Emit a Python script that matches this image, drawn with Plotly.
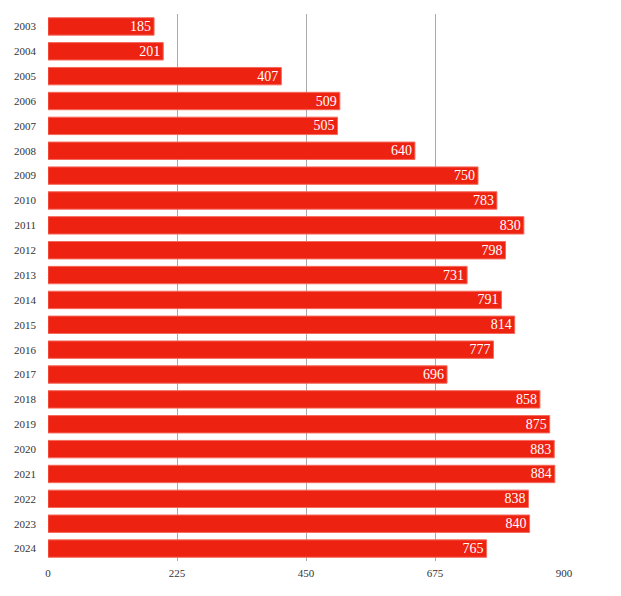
import plotly.graph_objects as go

years = [str(y) for y in range(2003, 2025)]
values = [185, 201, 407, 509, 505, 640, 750, 783, 830, 798, 731, 791, 814, 777,
          696, 858, 875, 883, 884, 838, 840, 765]
x_ticks = [0, 225, 450, 675, 900]

fig = go.Figure(go.Bar(
    x=values, y=years, orientation="h",
    marker=dict(color="#EE2211", line=dict(color="#F46A5C", width=1)),
    text=[str(v) for v in values], textposition="inside", insidetextanchor="end",
    constraintext="none",
    textfont=dict(color="white", size=14, family="Liberation Serif"),
    cliponaxis=False,
))
fig.update_layout(
    width=621, height=596,
    margin=dict(l=40, r=65, t=6, b=43, autoexpand=False),
    plot_bgcolor="white", paper_bgcolor="white",
    bargap=0.3,
    font=dict(family="Liberation Serif", size=11, color="#333"),
    showlegend=False,
    xaxis=dict(range=[0, 900], tickvals=x_ticks, showgrid=True, gridcolor="#aaa",
               gridwidth=1, zeroline=False, showline=False, ticks="", automargin=False,
               ticklabelstandoff=4,
               tickfont=dict(family="Liberation Serif", size=11, color="#333")),
    yaxis=dict(autorange="reversed", showgrid=False, zeroline=False, ticks="",
               ticklabelstandoff=11, automargin=False,
               tickfont=dict(family="Liberation Serif", size=11, color="#333")),
)
fig.write_html("out.html")
